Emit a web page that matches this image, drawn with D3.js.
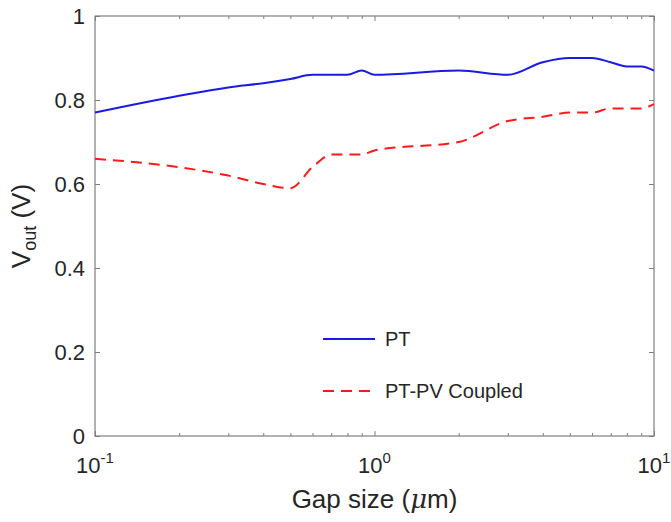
<!DOCTYPE html>
<html>
<head>
<meta charset="utf-8">
<script src="https://cdn.jsdelivr.net/npm/d3@7"></script>
<style>
  body { margin: 0; background: #fff; }
  text { font-family: "Liberation Sans", Arial, sans-serif; fill: #262626; }
</style>
</head>
<body>
<svg id="chart" width="671" height="522"></svg>
<script>
var gap = [0.1, 0.2, 0.3, 0.4, 0.5, 0.6, 0.7, 0.8, 0.9, 1, 2, 3, 4, 5, 6, 7, 8, 9, 10];
var pt = [0.77, 0.81, 0.83, 0.84, 0.85, 0.86, 0.86, 0.86, 0.87, 0.86, 0.87, 0.86, 0.89, 0.90, 0.90, 0.89, 0.88, 0.88, 0.87];
var ptpv = [0.66, 0.64, 0.62, 0.60, 0.59, 0.64, 0.67, 0.67, 0.67, 0.68, 0.70, 0.75, 0.76, 0.77, 0.77, 0.78, 0.78, 0.78, 0.79];
var yTicks = [0, 0.2, 0.4, 0.6, 0.8, 1];
var xMajor = [0.1, 1, 10];
var xExp = ["-1", "0", "1"];
var seriesNames = ["PT", "PT-PV Coupled"];

var svg = d3.select("#chart"),
  margin = { top: 16, right: 17, bottom: 86, left: 95 },
  width = svg.attr("width") - margin.left - margin.right,
  height = svg.attr("height") - margin.top - margin.bottom,
  g = svg.append("g").attr("transform", "translate(" + margin.left + "," + margin.top + ")");

var x = d3.scaleLog().domain([0.1, 10]).range([0, width]),
  y = d3.scaleLinear().domain([0, 1]).range([height, 0]);

var axisColor = "#7f7f7f";

// minor ticks 2..9 per decade
var xMinor = [];
[0.1, 1].forEach(function(d) {
  for (var k = 2; k <= 9; k++) xMinor.push(d * k);
});

function styleAxis(sel) {
  sel.select(".domain").remove();
  sel.selectAll("line").attr("stroke", axisColor);
}

// bottom / top ticks (inward)
g.append("g").attr("transform", "translate(0," + height + ")")
  .call(d3.axisBottom(x).tickValues(xMajor).tickSize(-5).tickFormat(""))
  .call(styleAxis);
g.append("g").attr("transform", "translate(0," + height + ")")
  .call(d3.axisBottom(x).tickValues(xMinor).tickSize(-3).tickFormat(""))
  .call(styleAxis);
g.append("g")
  .call(d3.axisTop(x).tickValues(xMajor).tickSize(-5).tickFormat(""))
  .call(styleAxis);
g.append("g")
  .call(d3.axisTop(x).tickValues(xMinor).tickSize(-3).tickFormat(""))
  .call(styleAxis);

// left / right y ticks
g.append("g")
  .call(d3.axisLeft(y).tickValues(yTicks).tickSize(-5).tickFormat(""))
  .call(styleAxis);
g.append("g").attr("transform", "translate(" + width + ",0)")
  .call(d3.axisRight(y).tickValues(yTicks).tickSize(-5).tickFormat(""))
  .call(styleAxis);

// y tick labels
g.selectAll(".ylab")
  .data(yTicks)
  .enter()
  .append("text")
  .attr("class", "ylab")
  .attr("x", -10)
  .attr("y", function(d) { return y(d); })
  .attr("dy", "0.36em")
  .attr("text-anchor", "end")
  .style("font-size", "22px")
  .text(function(d) { return d === 0 || d === 1 ? d : d.toFixed(1); });

// x tick labels 10^n
var xl = g.selectAll(".xlab")
  .data(xMajor)
  .enter()
  .append("text")
  .attr("class", "xlab")
  .attr("x", function(d) { return x(d); })
  .attr("y", height + 37)
  .attr("text-anchor", "middle")
  .style("font-size", "22px");
xl.append("tspan").text("10");
xl.append("tspan")
  .attr("dy", -10)
  .style("font-size", "15px")
  .text(function(d, i) { return xExp[i]; });

// box
g.append("rect")
  .attr("width", width)
  .attr("height", height)
  .attr("fill", "none")
  .attr("stroke", axisColor)
  .attr("stroke-width", 1.2);

// lines
var line = d3.line()
  .x(function(d) { return x(d[0]); })
  .y(function(d) { return y(d[1]); })
  .curve(d3.curveMonotoneX);

g.append("path")
  .datum(d3.zip(gap, ptpv))
  .attr("d", line)
  .attr("fill", "none")
  .attr("stroke", "#ff1a1a")
  .attr("stroke-width", 2)
  .attr("stroke-dasharray", "11,7");

g.append("path")
  .datum(d3.zip(gap, pt))
  .attr("d", line)
  .attr("fill", "none")
  .attr("stroke", "#1a1ae6")
  .attr("stroke-width", 2);

// axis titles
svg.append("text")
  .attr("x", margin.left + width / 2)
  .attr("y", 508)
  .attr("text-anchor", "middle")
  .style("font-size", "26px")
  .html('Gap size (<tspan font-style="italic" font-family="DejaVu Serif">\u03bc</tspan>m)');

var yl = svg.append("text")
  .attr("transform", "translate(30," + (margin.top + height / 2) + ") rotate(-90)")
  .attr("text-anchor", "middle")
  .style("font-size", "26px");
yl.append("tspan").text("V");
yl.append("tspan").attr("dy", 6).style("font-size", "18px").text("out");
yl.append("tspan").attr("dy", -6).text(" (V)");

// legend
var legend = svg.append("g").attr("transform", "translate(323,339)");
var legStyle = [
  { color: "#1a1ae6", dash: null },
  { color: "#ff1a1a", dash: "11,7" }
];
seriesNames.forEach(function(name, i) {
  var row = legend.append("g").attr("transform", "translate(0," + (i * 52) + ")");
  row.append("line")
    .attr("x1", 0).attr("x2", 52)
    .attr("stroke", legStyle[i].color)
    .attr("stroke-width", 2)
    .attr("stroke-dasharray", legStyle[i].dash);
  row.append("text")
    .attr("x", 62)
    .attr("dy", "0.36em")
    .style("font-size", "20px")
    .text(name);
});
</script>
</body>
</html>
